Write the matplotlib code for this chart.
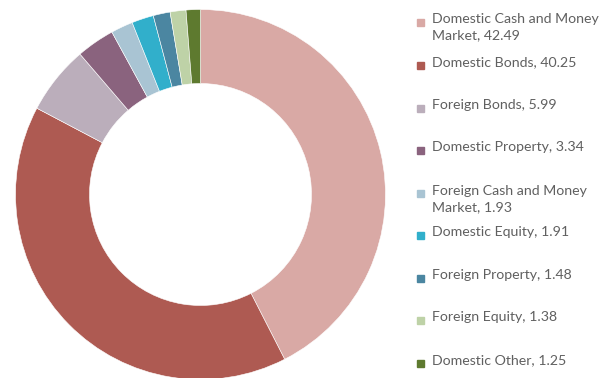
import matplotlib.pyplot as plt
from matplotlib.patches import Rectangle

# asset allocation (%)
labels = ['Domestic Cash and Money\nMarket', 'Domestic Bonds', 'Foreign Bonds',
          'Domestic Property', 'Foreign Cash and Money\nMarket', 'Domestic Equity',
          'Foreign Property', 'Foreign Equity', 'Domestic Other']
values = [42.49, 40.25, 5.99, 3.34, 1.93, 1.91, 1.48, 1.38, 1.25]
colors = ['#d9a9a5', '#ae5a52', '#bbaebb', '#8a637e', '#a9c4d3',
          '#31afcb', '#4b86a1', '#bed2a7', '#5e7a2f']

plt.rcParams['font.family'] = ['Lato', 'DejaVu Sans']

W, H = 603, 378
fig = plt.figure(figsize=(W / 100, H / 100), dpi=100)

# doughnut, centre (200, 194) px, radius ~185 px
cx, cy, r = 200.5, 194.5, 185
ax = fig.add_axes([(cx - r) / W, (H - cy - r) / H, 2 * r / W, 2 * r / H])
ax.pie(values, colors=colors, startangle=90, counterclock=False, radius=1,
       wedgeprops=dict(width=0.4, edgecolor='white', linewidth=0.4))
ax.set_xlim(-1, 1)
ax.set_ylim(-1, 1)
ax.set_aspect('auto')
ax.axis('off')

# legend, drawn by hand so the wrapped labels sit like the original
rows_y = [22, 65, 108, 150, 194, 235, 278, 320, 363]
for lab, val, col, y in zip(labels, values, colors, rows_y):
    fig.add_artist(Rectangle((417 / W, 1 - (y + 3.5) / H), 7 / W, 7 / H,
                             color=col, transform=fig.transFigure))
    fig.text(432 / W, 1 - (y - 9) / H, f'{lab}, {val:.2f}', ha='left', va='top',
             fontsize=10.2, color='#606060', linespacing=1.42)

fig.savefig('out.png', dpi=100)
